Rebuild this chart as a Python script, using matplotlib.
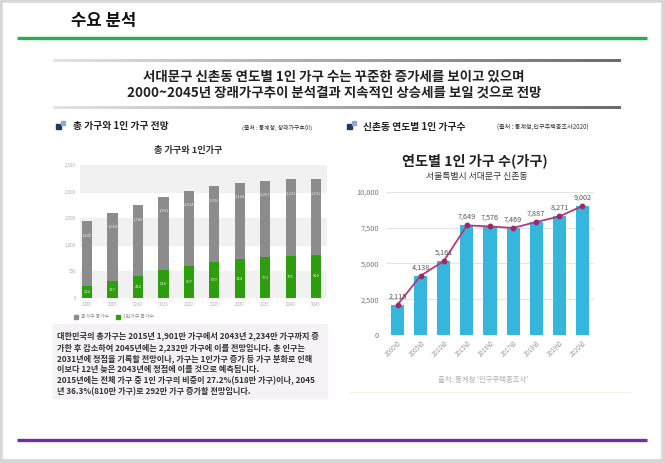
import numpy as np
import matplotlib.pyplot as plt
from matplotlib.patches import Rectangle
from matplotlib.colors import LinearSegmentedColormap

plt.rcParams['font.family'] = ['Noto Sans CJK KR', 'DejaVu Sans']

# left chart: total vs one-person households (10k households)
years_total = ['2000', '2005', '2010', '2015', '2020', '2025', '2030', '2035', '2040', '2045']
total_hh = [1445, 1604, 1749, 1901, 2014, 2096, 2164, 2207, 2231, 2232]
single_hh = [226, 317, 414, 518, 607, 670, 724, 763, 796, 810]
left_yticks = [0, 500, 1000, 1500, 2000, 2500]

# right chart: one-person households in Sinchon-dong
years_1p = ['2000년', '2005년', '2010년', '2015년', '2016년', '2017년', '2018년', '2019년', '2020년']
sinchon_1p = [2115, 4138, 5161, 7649, 7576, 7469, 7887, 8271, 9002]
right_yticks = [0, 2500, 5000, 7500, 10000]

note_lines = [
    '대한민국의 총가구는 2015년 1,901만 가구에서 2043년 2,234만 가구까지 증',
    '가한 후 감소하여 2045년에는 2,232만 가구에 이를 전망입니다. 총 인구는',
    '2031년에 정점을 기록할 전망이나, 가구는 1인가구 증가 등 가구 분화로 인해',
    '이보다 12년 늦은 2043년에 정점에 이를 것으로 예측됩니다.',
    '2015년에는 전체 가구 중 1인 가구의 비중이 27.2%(518만 가구)이나, 2045',
    '년 36.3%(810만 가구)로 292만 가구 증가할 전망입니다.',
]

W, H = 665, 463
fig = plt.figure(figsize=(W / 100, H / 100), dpi=100, facecolor='#d6d6d6')

# page background in pixel coordinates
bg = fig.add_axes([0, 0, 1, 1])
bg.set_xlim(0, W)
bg.set_ylim(H, 0)
bg.axis('off')
bg.add_patch(Rectangle((3, 3), 657, 455, color='white', zorder=0))

bg.text(71, 21, '수요 분석', fontsize=12, fontweight='bold', color='#111', va='center')
bg.plot([17, 647], [38, 38], color='#22b14c', lw=2.4, solid_capstyle='butt')
bg.plot([17, 647], [440, 440], color='#7030a0', lw=2.4, solid_capstyle='butt')

grad = np.linspace(0, 1, 256).reshape(1, -1)
gcmap = LinearSegmentedColormap.from_list('g', ['#e4e4e4', '#a8a8a8', '#6a6a6a'])
for yy in (61, 108):
    bg.imshow(grad, extent=[53, 621, yy + 1.3, yy - 1.3], cmap=gcmap, aspect='auto', zorder=1)
bg.set_xlim(0, W)
bg.set_ylim(H, 0)

bg.text(334, 77, '서대문구 신촌동 연도별 1인 가구 수는 꾸준한 증가세를 보이고 있으며',
        fontsize=9.7, fontweight='bold', color='#222', ha='center', va='center')
bg.text(334, 93, '2000~2045년 장래가구추이 분석결과 지속적인 상승세를 보일 것으로 전망',
        fontsize=9.7, fontweight='bold', color='#222', ha='center', va='center')

# panel headers with small square icons
for ix in (56, 347):
    bg.add_patch(Rectangle((ix, 124), 5, 5, color='#1f3864', zorder=2))
    bg.add_patch(Rectangle((ix + 5, 121), 3.5, 3.5, color='#8fa9d0', zorder=2))
bg.text(73, 126, '총 가구와 1인 가구 전망', fontsize=7, fontweight='bold', color='#222', va='center')
bg.text(242, 128, '(출처 : 통계청, 장래가구추이)', fontsize=4.2, color='#333', va='center')
bg.text(363, 127, '신촌동 연도별 1인 가구수', fontsize=7, fontweight='bold', color='#222', va='center')
bg.text(497, 128, '(출처 : 통계청,인구주택총조사2020)', fontsize=4.4, color='#333', va='center')

bg.text(188, 151, '총 가구와 1인가구', fontsize=6.6, fontweight='bold', color='#333',
        ha='center', va='center')
bg.text(475, 161, '연도별 1인 가구 수(가구)', fontsize=10.2, fontweight='bold', color='#222',
        ha='center', va='center')
bg.text(477, 176, '서울특별시 서대문구 신촌동', fontsize=6.4, fontweight='medium', color='#333',
        ha='center', va='center')
bg.text(483, 380, "출처: 통계청 '인구주택총조사'", fontsize=5.3, color='#b0b0b0',
        ha='center', va='center')
bg.plot([350, 630], [392, 392], color='#f4f2e4', lw=0.8)

# left legend
bg.add_patch(Rectangle((74, 315), 4, 4, color='#8c8c8c'))
bg.text(81, 317, '총가구 증가수', fontsize=3.5, color='#888', va='center')
bg.add_patch(Rectangle((116, 315), 4, 4, color='#2e9e0e'))
bg.text(123, 317, '1인가구 증가수', fontsize=3.5, color='#888', va='center')

# text box
bg.add_patch(Rectangle((53, 324), 274, 74, color='#f4f2f4', zorder=1))
for i, line in enumerate(note_lines):
    bg.text(57, 336 + i * 11.2, line, fontsize=5.85, fontweight='bold', color='#333',
            va='center', zorder=2)


def px_axes(x0, y0, x1, y1):
    return fig.add_axes([x0 / W, (H - y1) / H, (x1 - x0) / W, (y1 - y0) / H])


# left chart
ax1 = px_axes(80, 165, 327, 298)
ax1.patch.set_alpha(0)
x1 = np.arange(len(years_total))
for lo, hi in [(0, 500), (1000, 1500), (2000, 2500)]:
    ax1.axhspan(lo, hi, color='#f1f1f1', zorder=0)
ax1.bar(x1, total_hh, width=0.4, color='#8c8c8c', zorder=2)
ax1.bar(x1, single_hh, width=0.4, color='#2e9e0e', zorder=3)
for xi, t, s in zip(x1, total_hh, single_hh):
    ax1.annotate(f'{t:,}', (xi, t), xytext=(0, -10), textcoords='offset points',
                 ha='center', va='center', fontsize=3, color='#e8e8e8', zorder=4)
    ax1.text(xi, s / 2, f'{s:,}', ha='center', va='center', fontsize=3, color='#d8f0d0', zorder=4)
ax1.set_xlim(-0.28, 9.43)
ax1.set_ylim(0, 2500)
ax1.set_xticks(x1)
ax1.set_xticklabels(years_total)
ax1.set_yticks(left_yticks)
ax1.set_yticklabels([f'{v:,}' for v in left_yticks])
ax1.tick_params(length=0, labelsize=3.2, labelcolor='#aaa', pad=3)
for sp in ax1.spines.values():
    sp.set_visible(False)

# right chart
ax2 = px_axes(386, 191.7, 594, 335)
ax2.patch.set_alpha(0)
x2 = np.arange(len(years_1p))
ax2.bar(x2, sinchon_1p, width=0.57, color='#35b6dc', zorder=2)
ax2.plot(x2, sinchon_1p, color='#b43a78', lw=1.3, marker='o', markersize=3.2,
         markerfacecolor='#9c2a66', markeredgecolor='#9c2a66', zorder=3)
for xi, v in zip(x2, sinchon_1p):
    ax2.annotate(f'{v:,}', (xi, v), xytext=(0, 6), textcoords='offset points',
                 ha='center', va='center', fontsize=5.2, color='#555', zorder=4)
ax2.set_xlim(-0.5, 8.5)
ax2.set_ylim(0, 10000)
ax2.set_yticks(right_yticks)
ax2.set_yticklabels([f'{v:,}' for v in right_yticks])
ax2.yaxis.grid(True, color='#e4e4e4', lw=0.8, zorder=0)
ax2.set_axisbelow(True)
ax2.set_xticks(x2)
ax2.set_xticklabels(years_1p, rotation=45, ha='right', rotation_mode='anchor')
ax2.tick_params(axis='y', length=0, labelsize=5.3, labelcolor='#777', pad=5)
ax2.tick_params(axis='x', length=0, labelsize=4.4, labelcolor='#999', pad=3)
for sp in ax2.spines.values():
    sp.set_visible(False)

fig.savefig('out.png', dpi=100, facecolor=fig.get_facecolor())
